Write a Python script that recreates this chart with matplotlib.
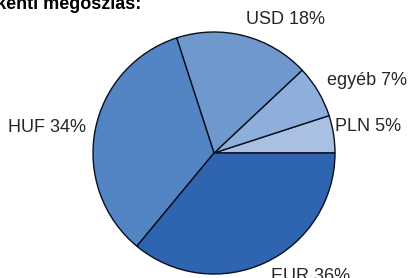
import matplotlib
matplotlib.use("Agg")
import matplotlib.pyplot as plt

categories = ["PLN", "egyéb", "USD", "HUF", "EUR"]
values = [5, 7, 18, 34, 36]
colors = ["#a9c0e2", "#8eaedb", "#6f98cd", "#5384c3", "#2e64b0"]
title = "Devizanemenkénti megoszlás:"

# label positions (in units of pie radius)
label_pos = [(1.27, 0.22), (1.265, 0.60), (0.59, 1.10), (-1.38, 0.21), (0.80, -1.02)]

W, H = 410, 278
fig = plt.figure(figsize=(W / 100, H / 100), dpi=100)
cx, cy, r = 214, 153, 121
ax = fig.add_axes([(cx - r) / W, (H - cy - r) / H, 2 * r / W, 2 * r / H])
ax.pie(values, colors=colors, startangle=0, counterclock=True,
       wedgeprops=dict(edgecolor="#0a0f1e", linewidth=1.0))
ax.set_xlim(-1, 1)
ax.set_ylim(-1, 1)
ax.set_aspect("auto")
ax.axis("off")

for cat, v, (lx, ly) in zip(categories, values, label_pos):
    ax.text(lx, ly, f"{cat} {v}%", ha="center", va="center", fontsize=13,
            family="Liberation Sans", color="#262626", clip_on=False)

fig.text(141 / W, 1 - 9 / H, title, ha="right", va="baseline", fontsize=13,
         fontweight="bold", family="Liberation Sans", color="#000000")

fig.savefig("out.png", dpi=100)
